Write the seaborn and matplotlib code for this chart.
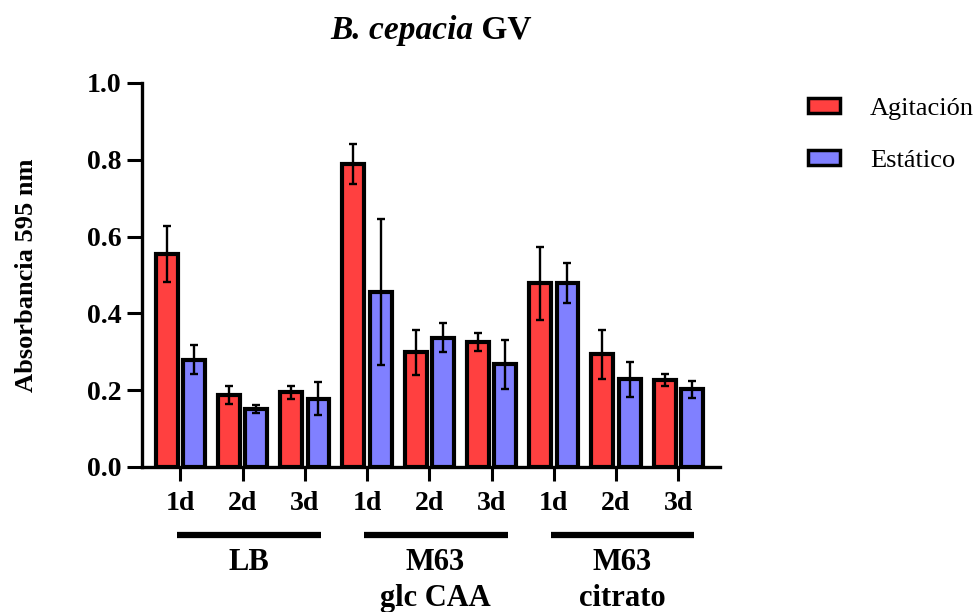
import numpy as np
import pandas as pd
import matplotlib
matplotlib.use("Agg")
import matplotlib.pyplot as plt
import seaborn as sns
from matplotlib.patches import Patch

# datos (media y desvio)
medios = ["LB", "M63\nglc CAA", "M63\ncitrato"]
dias = ["1d", "2d", "3d"]
condiciones = ["Agitación", "Estático"]

agit_media = [0.555, 0.188, 0.195, 0.788, 0.299, 0.326, 0.479, 0.293, 0.226]
agit_sd = [0.073, 0.023, 0.017, 0.052, 0.059, 0.023, 0.095, 0.063, 0.015]
est_media = [0.279, 0.151, 0.178, 0.456, 0.337, 0.268, 0.478, 0.228, 0.202]
est_sd = [0.038, 0.011, 0.043, 0.190, 0.038, 0.064, 0.052, 0.046, 0.023]

colores = {"Agitación": "#FF4040", "Estático": "#8080FF"}

grupos = [m.split("\n")[0] + " " + m.split("\n")[-1] + " " + d for m in medios for d in dias]
df = pd.DataFrame({
    "grupo": grupos * 2,
    "abs": agit_media + est_media,
    "sd": agit_sd + est_sd,
    "cond": [condiciones[0]] * 9 + [condiciones[1]] * 9,
})

sns.set_style("ticks")
plt.rcParams["font.family"] = ["Liberation Serif", "DejaVu Serif"]
plt.rcParams["font.weight"] = "bold"
for k in ["text.color", "axes.labelcolor", "xtick.color", "ytick.color", "axes.edgecolor"]:
    plt.rcParams[k] = "black"

fig = plt.figure(figsize=(9.8, 6.12), dpi=100)
ax = fig.add_axes([142 / 980, 145 / 612, 578 / 980, 384 / 612])

sns.barplot(data=df, x="grupo", y="abs", hue="cond", order=grupos,
            hue_order=condiciones, palette=colores, width=0.88, gap=0.2,
            errorbar=None, edgecolor="black", linewidth=3, saturation=1,
            legend=False, ax=ax)

# barras de error desde las posiciones de las barras
for cont, cond in zip(ax.containers, condiciones):
    sub = df[df.cond == cond].set_index("grupo").loc[grupos]
    xs = [b.get_x() + b.get_width() / 2 for b in cont]
    ax.errorbar(xs, sub["abs"].values, yerr=sub["sd"].values, fmt="none",
                ecolor="black", elinewidth=1.7, capsize=3, capthick=1.7, zorder=3)

ax.set_ylim(0, 1.0)
ax.set_xlim(-0.615, 8.67)
ax.set_yticks(np.arange(0, 1.01, 0.2))
ax.set_yticklabels([f"{v:.1f}" for v in np.arange(0, 1.01, 0.2)], fontsize=20, fontweight="bold")
ax.set_xticks(range(9))
ax.set_xticklabels(dias * 3, fontsize=20, fontweight="bold")
ax.tick_params(axis="y", length=11, width=2.2, pad=4)
ax.tick_params(axis="x", length=10, width=2.2, pad=7)
for s in ["left", "bottom"]:
    ax.spines[s].set_linewidth(2.4)
sns.despine(ax=ax)
ax.set_xlabel("")
ax.set_ylabel("Absorbancia 595 nm", fontsize=19, fontweight="bold")
ax.yaxis.set_label_coords(-0.18, 0.5)

# lineas y nombres de medio
tr = ax.get_xaxis_transform()
for i, m in enumerate(medios):
    c = 3 * i + 1
    ax.plot([c - 1.05, c + 1.26], [-0.176, -0.176], color="black", lw=4.5,
            transform=tr, clip_on=False, solid_capstyle="butt")
    ax.text(c + 0.1, -0.212, m, transform=tr, ha="center", va="top",
            fontsize=22, fontweight="bold", linespacing=1.3)

# titulo
t1 = fig.text(330 / 980, 1 - 30 / 612, "B. cepacia", fontsize=24, fontweight="bold",
              style="italic", va="center")
fig.canvas.draw()
ax.annotate(" GV", xy=(1, 0.5), xycoords=t1, va="center", ha="left",
            fontsize=24, fontweight="bold")

handles = [Patch(facecolor=colores[c], edgecolor="black", linewidth=2.5) for c in condiciones]
fig.legend(handles, condiciones, loc="upper left", bbox_to_anchor=(808 / 980, 1 - 98 / 612),
           frameon=False, prop={"size": 19, "weight": "normal"}, borderpad=0,
           borderaxespad=0, handlelength=1.2, handleheight=0.5, labelspacing=1.12,
           handletextpad=1.15)

fig.savefig("out.png", dpi=100)
